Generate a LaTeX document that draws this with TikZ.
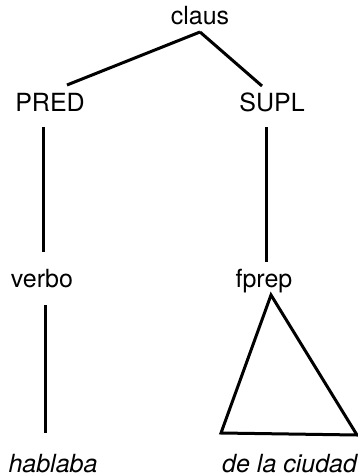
\documentclass[tikz,border=0pt]{standalone}
\usepackage{fontspec}
\setmainfont{TeX Gyre Heros}
\usetikzlibrary{calc}

\begin{document}
\begin{tikzpicture}[
  x=1pt, y=-1pt,
  lbl/.style={inner sep=0pt, anchor=base, font=\fontsize{25}{28}\selectfont},
  word/.style={lbl, font=\fontsize{25}{28}\selectfont\itshape},
  edge/.style={line width=3pt, line cap=butt}
]
\useasboundingbox (0,0) rectangle (357,476);

% category labels
\node[lbl] (claus) at (200,25) {claus};
\node[lbl] (pred) at (50,111) {PRED};
\node[lbl] (supl) at (272,111) {SUPL};
\node[lbl] (verbo) at (42,287) {verbo};
\node[lbl] (fprep) at (264,287) {fprep};

% words
\node[word] (hablaba) at (53,472) {hablaba};
\node[word, anchor=base west] (ciudad) at (222,472) {de la ciudad};

% branches
\draw[edge] ([yshift=-7pt]claus.base) -- ([xshift=17pt,yshift=26pt]pred.base);
\draw[edge] ([yshift=-7pt]claus.base) -- ([xshift=-10pt,yshift=25pt]supl.base);
\draw[edge] ([xshift=-7pt,yshift=-16pt]pred.base) -- ([xshift=1pt,yshift=35pt]verbo.base);
\draw[edge] ([xshift=-6pt,yshift=-16pt]supl.base) -- ([xshift=2pt,yshift=25pt]fprep.base);
\draw[edge] ([xshift=3pt,yshift=-18pt]verbo.base) -- ([xshift=-8pt,yshift=39pt]hablaba.base);

% triangle over the phrase
\coordinate (tri-l) at (221,433);
\coordinate (tri-r) at (357,435);
\draw[edge, line join=miter] ([xshift=7pt,yshift=-8pt]fprep.base) -- (tri-l) -- (tri-r) -- cycle;
\end{tikzpicture}
\end{document}
